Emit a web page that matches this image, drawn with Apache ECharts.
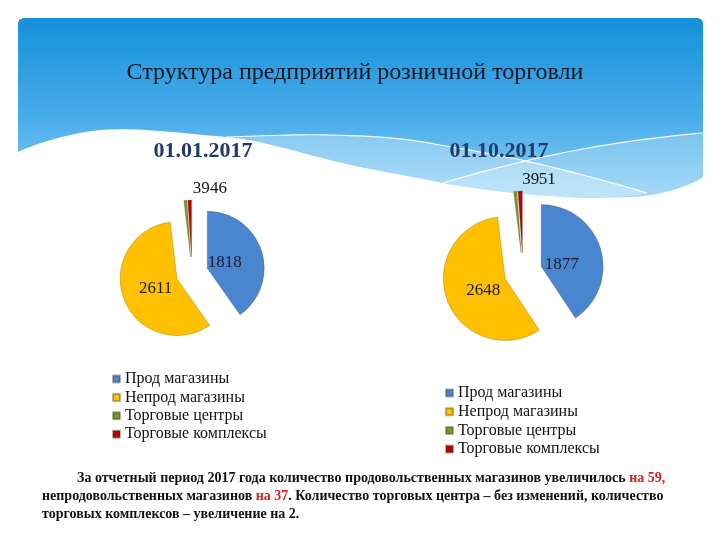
<!DOCTYPE html>
<html><head><meta charset="utf-8">
<script src="https://cdn.jsdelivr.net/npm/echarts@6/dist/echarts.min.js"></script>
<style>html,body{margin:0;padding:0;background:#fff}#c{width:720px;height:540px}</style>
</head><body><div id="c"></div>
<script>
const categories = ['Прод магазины', 'Непрод магазины', 'Торговые центры', 'Торговые комплексы'];
const valuesJan = [1818, 2611, 39, 46];
const valuesOct = [1877, 2648, 39, 51];
const periods = ['01.01.2017', '01.10.2017'];
const mainTitle = 'Структура предприятий розничной торговли';
const noteLines = [
  [['a', 'За отчетный период 2017 года количество продовольственных магазинов увеличилось '], ['r', 'на 59,']],
  [['a', 'непродовольственных магазинов '], ['r', 'на 37'], ['a', '. Количество торговых центра – без изменений, количество']],
  [['a', 'торговых комплексов – увеличение на 2.']]
];

const colors = ['#4a86d0', '#ffc000', '#6f9d2e', '#c00000'];
const serif = 'Liberation Serif';

// decorative curve helper: sample a chain of cubic bezier segments into points
function bez(start, segs, n) {
  const pts = [start.slice()];
  let p0 = start;
  segs.forEach(s => {
    const [c1, c2, p3] = s;
    for (let k = 1; k <= n; k++) {
      const t = k / n, u = 1 - t;
      pts.push([
        u*u*u*p0[0] + 3*u*u*t*c1[0] + 3*u*t*t*c2[0] + t*t*t*p3[0],
        u*u*u*p0[1] + 3*u*u*t*c1[1] + 3*u*t*t*c2[1] + t*t*t*p3[1]
      ]);
    }
    p0 = p3;
  });
  return pts;
}

function buildData(values) {
  return values.map((v, i) => ({
    name: categories[i],
    value: v,
    selected: true,
    label: { position: 'inside', fontSize: 17, color: i < 2 ? '#1a1a2e' : '#111' }
  }));
}

function pieSeries(values, center, radius, offset, shifts) {
  return {
    type: 'pie',
    center: center,
    radius: radius,
    startAngle: 90,
    clockwise: true,
    selectedMode: 'multiple',
    selectedOffset: offset,
    silent: true,
    avoidLabelOverlap: false,
    itemStyle: { borderColor: 'rgba(60,40,0,0.35)', borderWidth: 0.6 },
    label: { show: true, formatter: '{c}', fontFamily: serif },
    labelLine: { show: false },
    labelLayout: function (p) {
      const s = shifts[p.dataIndex];
      return { dx: s[0], dy: s[1], hideOverlap: false, moveOverlap: null };
    },
    emphasis: { disabled: true },
    data: buildData(values)
  };
}

function noteTitle(parts, left, top) {
  return {
    text: parts.map(p => '{' + p[0] + '|' + p[1] + '}').join(''),
    left: left, top: top, padding: 0,
    textStyle: {
      rich: {
        a: { fontFamily: serif, fontWeight: 'bold', fontSize: 14, color: '#111' },
        r: { fontFamily: serif, fontWeight: 'bold', fontSize: 14, color: '#d42020' }
      }
    }
  };
}

const legendBase = {
  orient: 'vertical', icon: 'rect', itemWidth: 7, itemHeight: 7, selectedMode: false, padding: 0,
  data: categories,
  textStyle: { fontFamily: serif, fontSize: 16, lineHeight: 15, color: '#111' }
};

// header decoration (wavy slide banner)
const edgeRight = [[[690, 186], [660, 196], [630, 197]], [[600, 198], [580, 198], [563, 197]],
  [[520, 194], [480, 190], [443, 183]]];
const edgeLeft = [[[400, 174], [360, 168], [330, 160]], [[290, 150], [260, 140], [226, 137]],
  [[180, 133], [130, 126], [92, 131]], [[60, 136], [35, 144], [18, 152]]];
const bottomEdge = bez([703, 177], edgeRight.concat(edgeLeft), 14);
const headerPts = [[18, 23], [19, 20], [23, 18], [698, 18], [702, 20], [703, 23]].concat(bottomEdge);
const l1Segs = [[[260, 136], [300, 134], [330, 135]], [[380, 136], [410, 139], [440, 145]],
  [[475, 151], [505, 156], [530, 162]], [[570, 171], [610, 182], [647, 193]]];
const line1 = bez([226, 137], l1Segs, 14);
const line2 = bez([443, 183], [[[520, 160], [600, 142], [703, 133]]], 40);
const bandLeft = line1.concat(bez([647, 193], [[[640, 196], [610, 198], [563, 197]], [[520, 194], [480, 190], [443, 183]]].concat(edgeLeft.slice(0, 2)), 14));
const bandRight = line2.concat(bez([703, 177], edgeRight, 14));

const option = {
  animation: false,
  backgroundColor: '#ffffff',
  color: colors,
  graphic: [
    { type: 'polygon', z: -10, shape: { points: headerPts },
      style: { fill: { type: 'linear', x: 0, y: 0, x2: 0, y2: 1,
        colorStops: [{ offset: 0, color: '#1590da' }, { offset: 0.55, color: '#48acea' }, { offset: 1, color: '#8ccff5' }] } } },
    { type: 'polygon', z: -9, shape: { points: bandLeft }, style: { fill: 'rgba(255,255,255,0.3)' } },
    { type: 'polygon', z: -9, shape: { points: bandRight }, style: { fill: 'rgba(255,255,255,0.22)' } },
    { type: 'polyline', z: -8, shape: { points: line1 }, style: { fill: null, stroke: 'rgba(255,255,255,0.95)', lineWidth: 1.2 } },
    { type: 'polyline', z: -8, shape: { points: line2 }, style: { fill: null, stroke: 'rgba(255,255,255,0.95)', lineWidth: 1.2 } }
  ],
  title: [
    { text: mainTitle, left: 355, top: 61, padding: 0, textAlign: 'center',
      textStyle: { fontFamily: serif, fontWeight: 'normal', fontSize: 24, color: '#151522' } },
    { text: periods[0], left: 203, top: 140, padding: 0, textAlign: 'center',
      textStyle: { fontFamily: serif, fontWeight: 'bold', fontSize: 22, color: '#1f3a6b' } },
    { text: periods[1], left: 499, top: 140, padding: 0, textAlign: 'center',
      textStyle: { fontFamily: serif, fontWeight: 'bold', fontSize: 22, color: '#1f3a6b' } },
    noteTitle(noteLines[0], 77, 471),
    noteTitle(noteLines[1], 42, 489),
    noteTitle(noteLines[2], 42, 507)
  ],
  legend: [
    Object.assign({}, legendBase, { left: 112, top: 371, itemGap: 2.4 }),
    Object.assign({}, legendBase, { left: 445, top: 385, itemGap: 2.7 })
  ],
  series: [
    pieSeries(valuesJan, [192, 273], 57, 16, [[-12.5, 4], [8, -1], [13.5, -37], [28, -37]]),
    pieSeries(valuesOct, [523, 272], 62, 19, [[-12, 8], [10, 0], [12.8, -40], [26.2, -40]])
  ]
};

const chart = echarts.init(document.getElementById('c'), null, { renderer: 'canvas' });
chart.setOption(option);
</script>
</body></html>
